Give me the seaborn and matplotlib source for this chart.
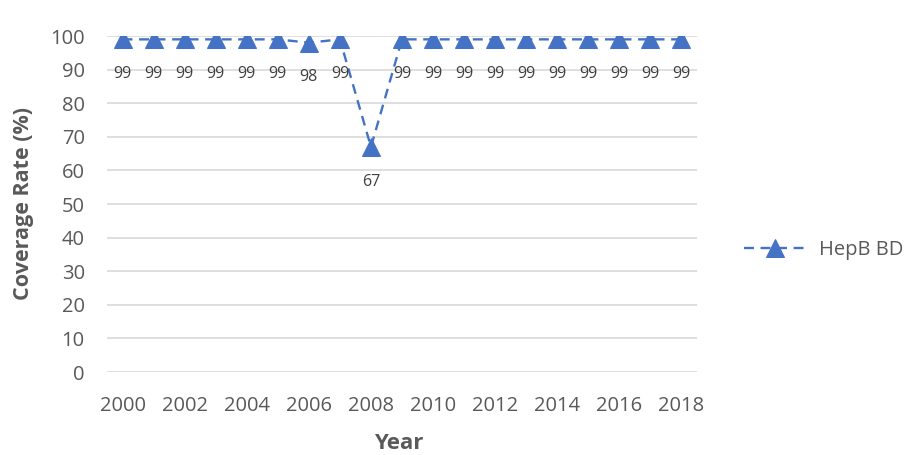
import matplotlib
matplotlib.use("Agg")
import matplotlib.pyplot as plt
import seaborn as sns
import pandas as pd

years = list(range(2000, 2019))
coverage = [99, 99, 99, 99, 99, 99, 98, 99, 67, 99, 99, 99, 99, 99, 99, 99, 99, 99, 99]
series_name = "HepB BD"
xtick_years = list(range(2000, 2019, 2))
ytick_vals = list(range(0, 101, 10))

df = pd.DataFrame({"Year": years, "Coverage": coverage, "Series": series_name})

sns.set_theme(style="white")
plt.rcParams['font.family'] = ['Open Sans', 'DejaVu Sans']

blue = "#4472C4"
grey = "#595959"

fig = plt.figure(figsize=(9.09, 4.55), dpi=100)
ax = fig.add_axes([107/909, 1-372/455, (697-107)/909, (372-36)/455])

sns.lineplot(data=df, x="Year", y="Coverage", hue="Series", palette=[blue],
             marker="^", markersize=13, markeredgecolor=blue, linewidth=1.7,
             linestyle=(0, (4.2, 2.8)), ax=ax)

for yr, v in zip(years, coverage):
    ax.annotate(str(v), (yr, v), xytext=(0, -25), textcoords="offset points",
                ha="center", va="center", fontsize=11.5, color="#404040")

ax.set_xlim(1999.5, 2018.5)
ax.set_ylim(0, 100)
ax.set_xticks(xtick_years)
ax.set_yticks(ytick_vals)
ax.tick_params(axis="x", labelsize=14.5, labelcolor=grey, length=0, pad=17)
ax.tick_params(axis="y", labelsize=14.5, labelcolor=grey, length=0, pad=16)
ax.grid(axis="y", color="#D9D9D9", linewidth=1.2)
ax.set_axisbelow(True)
for s in ax.spines.values():
    s.set_visible(False)
ax.set_xlabel("Year", fontsize=16, fontweight="bold", color=grey)
ax.set_ylabel("Coverage Rate (%)", fontsize=15.5, fontweight="bold", color=grey)
ax.xaxis.set_label_coords((399-107)/590, -(433-372)/336)
ax.yaxis.set_label_coords(-(107-34)/590, 0.5)

handles, labels = ax.get_legend_handles_labels()
ax.legend(handles, labels, loc="center left", bbox_to_anchor=((740-107)/590, (372-250)/336),
          borderaxespad=0, borderpad=0.2, frameon=False, fontsize=14.5, labelcolor=grey,
          handlelength=3.1, handletextpad=0.6)

fig.savefig("out.png", dpi=100)
